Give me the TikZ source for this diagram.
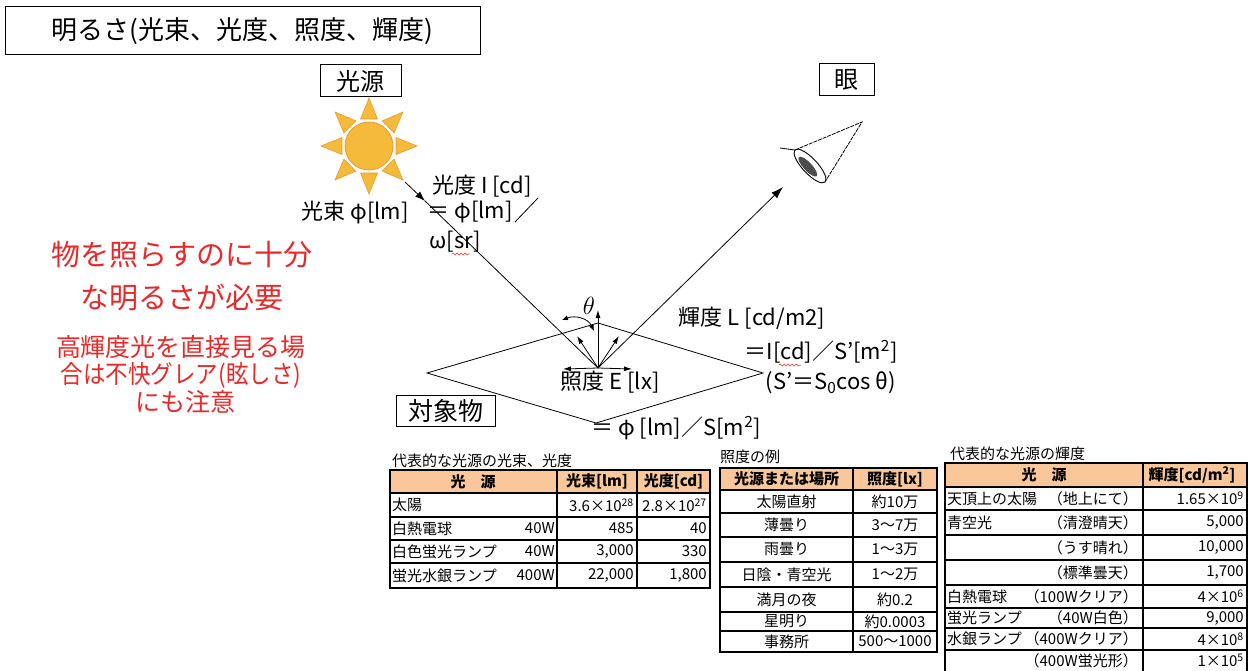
\documentclass[tikz,border=0pt]{standalone}
\usepackage{fontspec}
\setmainfont{Noto Sans CJK JP}
\usetikzlibrary{arrows.meta,decorations.pathmorphing}
\definecolor{warn}{HTML}{E8292A}
\definecolor{sunfill}{HTML}{F5BA3A}
\definecolor{sunedge}{HTML}{EE9A2A}
\definecolor{head}{HTML}{F9C79A}
\newcommand\fsz[1]{\fontsize{#1}{#1}\selectfont}
\tikzset{
  frame/.style={draw, line width=1pt, inner sep=0pt},
  lbl/.style={inner sep=0pt, font=\fsz{22}},
  note/.style={inner sep=0pt, text=warn, align=center},
  cell/.style={inner sep=0pt, font=\fsz{15}},
  th/.style={inner sep=0pt, font=\fsz{15}\bfseries},
  grid/.style={line width=1.1pt},
  thin/.style={line width=0.8pt},
  tip/.style={-{Latex[length=8pt,width=5pt]}},
  wavy/.style={warn, line width=0.5pt, decorate, decoration={snake, amplitude=1.1pt, segment length=4pt}},
}
\begin{document}
\begin{tikzpicture}[x=1pt,y=-1pt]
\useasboundingbox (0,0) rectangle (1251,671);

% title
\node[frame, minimum width=475pt, minimum height=48pt] (title) at (242.5,31)
  {\fsz{26}明るさ(光束、光度、照度、輝度)};

% labels in boxes
\node[frame, minimum width=81pt, minimum height=32pt] (src) at (360.5,81) {\fsz{24}光源};
\node[frame, minimum width=55pt, minimum height=32pt] (eye) at (846.5,80) {\fsz{24}眼};
\node[frame, minimum width=99pt, minimum height=31pt] (obj) at (445.5,410.5) {\fsz{25}対象物};

% sun
\begin{scope}[shift={(369,146)}]
  \foreach \a in {0,45,...,315}
    \filldraw[fill=sunfill, draw=sunedge, line width=0.6pt, rotate=\a] (27,-8.5) -- (48,0) -- (27,8.5) -- cycle;
  \filldraw[fill=sunfill, draw=sunedge, line width=0.8pt] (0,0) circle (24);
\end{scope}

% key points of the ray diagram
\coordinate (O) at (598,368);
\coordinate (S1) at (405,182);
\coordinate (A1) at (425,201);
\coordinate (E1) at (783,187);
\coordinate (D1) at (427,373);
\coordinate (D2) at (598,323);
\coordinate (D3) at (763,373);
\coordinate (D4) at (596,423);

% illuminated surface
\draw[thin] (D1) -- (D2) -- (D3) -- (D4) -- cycle;

% incoming and reflected rays
\draw[thin, -{Latex[length=10pt,width=7pt]}] (S1) -- (A1);
\draw[thin] (A1) -- (O);
\draw[thin, -{Latex[length=12pt,width=8pt]}] (O) -- (E1);

% diffuse reflection arrows
\coordinate (V) at (598,310);
\coordinate (L1) at (577,336);
\coordinate (R1) at (619,336);
\coordinate (H1) at (563,369);
\coordinate (H2) at (632,369);
\draw[thin, tip] (O) -- (V);
\draw[thin, tip] (O) -- (L1);
\draw[thin, tip] (O) -- (R1);
\draw[thin, tip] (O) -- (H1);
\draw[thin, tip] (O) -- (H2);
\coordinate (T1) at (594,331);
\coordinate (T2) at (562,320);
\draw[thin, {Latex[length=6pt,width=5pt]}-{Latex[length=6pt,width=5pt]}] (T1) .. controls (588,318) and (575,315) .. (T2);
\node[inner sep=0pt] (theta) at (589,306) {\fsz{23}$\theta$};

% eye
\coordinate (EA) at (862,122);
\coordinate (EB) at (795,150);
\coordinate (EC) at (825,182);
\draw[line width=0.8pt, dash pattern=on 4pt off 1pt] (EB) -- (EA) -- (EC);
\draw[line width=0.8pt] (780,148) -- (EB);
\draw[line width=0.9pt, fill=white, rotate around={-47:(810,166)}] (810,166) ellipse [x radius=22, y radius=7.5];
\fill[black!70, rotate around={-47:(810,166)}] (809,168) ellipse [x radius=13, y radius=4.2];

% luminous intensity
\node[lbl] (inten) at (482,186) {光度 I [cd]};
\node[lbl] (flux) at (355,212) {光束 φ[lm]};
\node[lbl] (flux2) at (470,212) {＝ φ[lm]};
\coordinate (SL1) at (515,222);
\coordinate (SL2) at (538,198);
\draw[thin] (SL1) -- (SL2);
\node[lbl] (omega) at (455,242) {ω[sr]};
\draw[wavy] (452,254) -- (470,254);

% luminance
\node[lbl] (lum) at (752,318) {輝度 L [cd/m2]};
\node[lbl] (lum2) at (821,352) {＝I[cd]／S'[m\textsuperscript{2}]};
\draw[wavy] (779,365) -- (801,365);
\node[lbl] (lum3) at (831,383) {(S'＝S\textsubscript{0}cos θ)};

% illuminance
\node[lbl] (illum) at (610,382) {照度 E [lx]};
\node[lbl] (illum2) at (676,428) {＝ φ [lm]／S[m\textsuperscript{2}]};

% notes
\node[note, font=\fsz{29}] (n1) at (182,255) {物を照らすのに十分};
\node[note, font=\fsz{29}] (n2) at (182,297) {な明るさが必要};
\node[note, font=\fsz{25}] (n3) at (181,347) {高輝度光を直接見る場};
\node[note, font=\fsz{25}] (n4) at (181,375) {\scalebox{0.9}[1]{合は不快グレア(眩しさ)}};
\node[note, font=\fsz{25}] (n5) at (185,402) {にも注意};

% table 1: luminous flux and intensity
\node[cell, anchor=west] (t1) at (392,461) {代表的な光源の光束、光度};
\fill[head] (390,470) rectangle (710,493);
\draw[grid] (390,470) rectangle (710,588);
\foreach \y in {493,517,540,563} \draw[grid] (390,\y) -- (710,\y);
\draw[grid] (557,470) -- (557,588);
\draw[grid] (637,470) -- (637,588);
\node[th] (t1h1) at (473,481.5) {光\quad 源};
\node[th] (t1h2) at (597,481.5) {光束[lm]};
\node[th] (t1h3) at (673.5,481.5) {光度[cd]};
\foreach \n/\y/\a/\w/\b/\c in {
  1/505/太陽//3.6×10\textsuperscript{28}/2.8×10\textsuperscript{27},
  2/528.5/白熱電球/40W/485/40,
  3/551.5/白色蛍光ランプ/40W/{3,000}/330,
  4/575.5/蛍光水銀ランプ/400W/{22,000}/{1,800}}{
  \node[cell, anchor=west] (t1a\n) at (392,\y) {\a};
  \node[cell, anchor=east] (t1w\n) at (555,\y) {\w};
  \node[cell, anchor=east] (t1b\n) at (634,\y) {\b};
  \node[cell, anchor=east] (t1c\n) at (707,\y) {\c};
}

% table 2: illuminance examples
\node[cell, anchor=west] (t2) at (720,457) {照度の例};
\fill[head] (720,468) rectangle (937,490);
\draw[grid] (720,468) rectangle (937,652);
\foreach \y in {490,513,537,562,587,612,631} \draw[grid] (720,\y) -- (937,\y);
\draw[grid] (853,468) -- (853,652);
\node[th] (t2h1) at (786.5,479) {光源または場所};
\node[th] (t2h2) at (895,479) {照度[lx]};
\foreach \n/\y/\a/\b in {
  1/501.5/太陽直射/約10万,
  2/525/薄曇り/3～7万,
  3/549.5/雨曇り/1～3万,
  4/574.5/日陰・青空光/1～2万,
  5/599.5/満月の夜/約0.2,
  6/621.5/星明り/約0.0003,
  7/641.5/事務所/500～1000}{
  \node[cell] (t2a\n) at (786.5,\y) {\a};
  \node[cell] (t2b\n) at (895,\y) {\b};
}

% table 3: luminance of light sources
\node[cell, anchor=west] (t3) at (950,454) {代表的な光源の輝度};
\fill[head] (945,463) rectangle (1247,487);
\draw[grid] (945,671) -- (945,463) -- (1247,463) -- (1247,671);
\foreach \y in {487,510,535,560,585,608,628,650} \draw[grid] (945,\y) -- (1247,\y);
\draw[grid] (1143,463) -- (1143,671);
\node[th] (t3h1) at (1044,475) {光\quad 源};
\node[th] (t3h2) at (1192,475) {輝度[cd/m\textsuperscript{2}]};
\foreach \n/\y/\a/\p/\v in {
  1/498.5/天頂上の太陽/（地上にて）/1.65×10\textsuperscript{9},
  2/522.5/青空光/（清澄晴天）/{5,000},
  3/547.5//（うす晴れ）/{10,000},
  4/572.5//（標準曇天）/{1,700},
  5/596.5/白熱電球/（100Wクリア）/4×10\textsuperscript{6},
  6/618/蛍光ランプ/（40W白色）/{9,000},
  7/639/水銀ランプ/（400Wクリア）/4×10\textsuperscript{8},
  8/660.5//（400W蛍光形）/1×10\textsuperscript{5}}{
  \node[cell, anchor=west] (t3a\n) at (947,\y) {\a};
  \node[cell, anchor=east] (t3p\n) at (1138,\y) {\p};
  \node[cell, anchor=east] (t3v\n) at (1244,\y) {\v};
}
\end{tikzpicture}
\end{document}
